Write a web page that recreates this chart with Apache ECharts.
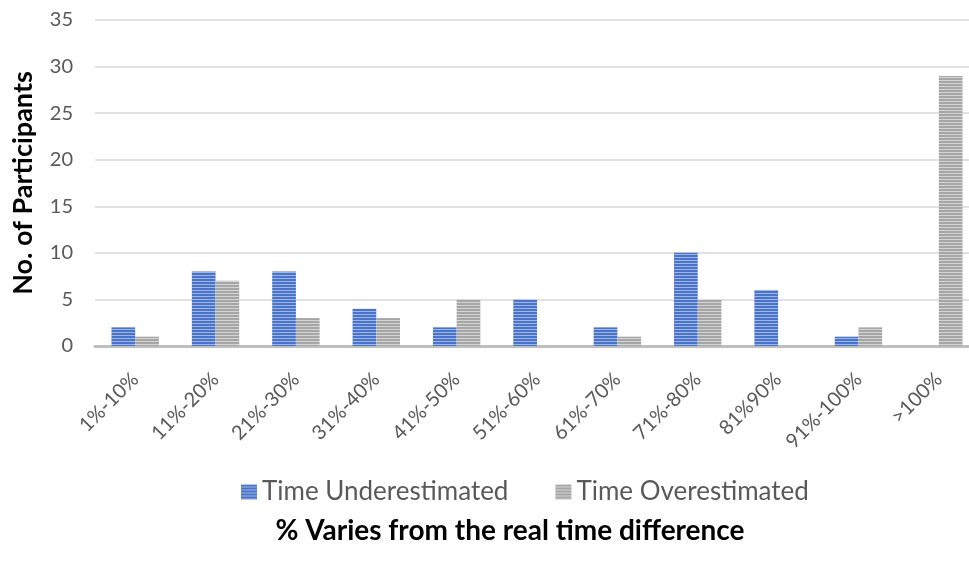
<!DOCTYPE html>
<html>
<head>
<meta charset="utf-8">
<script src="https://cdn.jsdelivr.net/npm/echarts@6/dist/echarts.min.js"></script>
<style>
  html, body { margin: 0; padding: 0; background: #fff; }
  #chart { width: 969px; height: 563px; }
</style>
</head>
<body>
<div id="chart"></div>
<script>
const categories = ['1%-10%', '11%-20%', '21%-30%', '31%-40%', '41%-50%', '51%-60%',
                    '61%-70%', '71%-80%', '81%90%', '91%-100%', '>100%'];
const underestimated = [2, 8, 8, 4, 2, 5, 2, 10, 6, 1, 0];
const overestimated  = [1, 7, 3, 3, 5, 0, 1, 5, 0, 2, 29];
const yTicks = { min: 0, max: 35, interval: 5 };

// Horizontal striped fill, built on a tiny canvas and tiled.
function stripes(dark, light) {
  const c = document.createElement('canvas');
  c.width = 4; c.height = 3;
  const g = c.getContext('2d');
  g.fillStyle = light; g.fillRect(0, 0, 4, 3);
  g.fillStyle = dark;  g.fillRect(0, 0, 4, 2);
  return { image: c, repeat: 'repeat' };
}

const blueFill = stripes('#4A74C9', '#9DB6E6');
const grayFill = stripes('#A6A6A6', '#D4D4D4');
const font = 'Lato, "Open Sans", sans-serif';

const chart = echarts.init(document.getElementById('chart'), null, { renderer: 'canvas' });
chart.setOption({
  animation: false,
  textStyle: { fontFamily: font },
  title: {
    text: '% Varies from the real time difference',
    left: 505, top: 512, textAlign: 'center',
    textStyle: { fontSize: 28, fontWeight: 'bold', color: '#000', fontFamily: font }
  },
  grid: { left: 95, right: -10, top: 20, bottom: 217, containLabel: false, outerBoundsMode: 'none' },
  legend: {
    top: 474,
    left: 236,
    icon: 'rect',
    itemWidth: 16, itemHeight: 15,
    itemGap: 47,
    textStyle: { fontSize: 26, color: '#595959', fontFamily: font },
    data: [
      { name: 'Time Underestimated', itemStyle: { color: blueFill } },
      { name: 'Time Overestimated', itemStyle: { color: grayFill } }
    ]
  },
  xAxis: {
    type: 'category',
    data: categories,
    axisLine: { lineStyle: { color: '#BFBFBF', width: 3 } },
    axisTick: { show: false },
    axisLabel: { rotate: 45, fontSize: 20, color: '#595959', margin: 30, interval: 0 }
  },
  yAxis: {
    type: 'value',
    min: yTicks.min, max: yTicks.max, interval: yTicks.interval,
    name: 'No. of Participants',
    nameLocation: 'middle',
    nameGap: 58,
    nameTextStyle: { fontSize: 27, fontWeight: 'bold', color: '#000', fontFamily: font },
    axisLine: { show: false },
    axisTick: { show: false },
    axisLabel: { fontSize: 20, color: '#595959', margin: 22 },
    splitLine: { lineStyle: { color: '#D9D9D9', width: 1.5 } }
  },
  series: [
    {
      name: 'Time Underestimated', type: 'bar', data: underestimated,
      barGap: '0%', barCategoryGap: '41%',
      itemStyle: { color: blueFill }
    },
    {
      name: 'Time Overestimated', type: 'bar', data: overestimated,
      barGap: '0%', barCategoryGap: '41%',
      itemStyle: { color: grayFill }
    }
  ]
});
</script>
</body>
</html>
